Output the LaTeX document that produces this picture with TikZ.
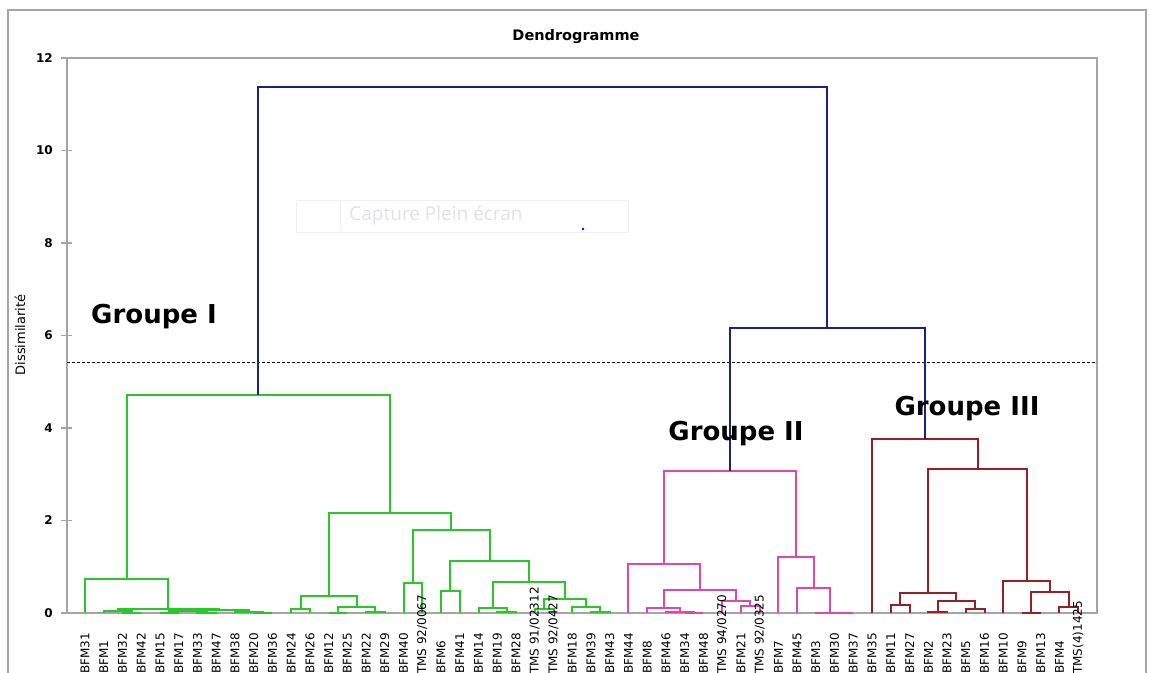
\documentclass[tikz,border=0pt]{standalone}
\usepackage{fontspec}
\setmainfont{DejaVu Sans}
\newfontfamily\wmfont{Open Sans}
\usetikzlibrary{calc}
\definecolor{cgreen}{RGB}{40,200,40}
\definecolor{cpink}{RGB}{222,72,172}
\definecolor{cred}{RGB}{150,32,38}
\definecolor{cnavy}{RGB}{30,30,135}
\definecolor{cframe}{RGB}{165,165,165}
\definecolor{cwm}{RGB}{238,240,246}
\definecolor{cwmtext}{RGB}{226,226,230}
\newcommand\mrg[5]{%
  \path let \p1=(#3), \p2=(#4) in coordinate (#2) at ({(\x1+\x2)/2},#5);
  \draw[#1] (#3) |- (#2) -| (#4);}
\tikzset{
  g1/.style={cgreen,line width=2},
  g2/.style={cpink,line width=2},
  g3/.style={cred,line width=2},
  topl/.style={cnavy,line width=2},
  axisline/.style={cframe,line width=2},
  leaflab/.style={rotate=90,anchor=west,inner sep=0pt,font=\fontsize{12}{14}\selectfont},
  ticklab/.style={anchor=east,inner sep=0pt,font=\bfseries\fontsize{12}{14}\selectfont},
  grp/.style={inner sep=0pt,font=\bfseries\fontsize{26}{30}\selectfont}
}
\begin{document}
\begin{tikzpicture}[x=1pt,y=-1pt]
\useasboundingbox (0,0) rectangle (1151,672);
\fill[white] (0,0) rectangle (1151,672);
% outer frame
\draw[cframe,line width=1.2] (8,10) rectangle (1146,700);
% title
\node[font=\bfseries\fontsize{14.5}{17}\selectfont] (title) at (576,37) {Dendrogramme};
% watermark
\draw[draw=cwm,fill=white] (296,200) rectangle (628,232);
\draw[cwm] (340,201) -- (340,231);
\node[text=cwmtext,font=\wmfont\fontsize{19}{22}\selectfont] (wm) at (436,216) {Capture Plein écran};
\fill[blue] (583,229) circle (1.3);
% plot frame
\draw[axisline] (67,58) rectangle (1097,613);
\foreach \v in {0,2,...,12}{
  \draw[axisline,line width=1.4] (61,{613-46.25*\v}) -- (72,{613-46.25*\v});
  \node[ticklab] (tick\v) at (53,{613-46.25*\v}) {\v};
}
\node[rotate=90,font=\fontsize{13}{15}\selectfont] (ylab) at (20,335) {Dissimilarité};
% threshold
\coordinate (thA) at (67,362);
\coordinate (thB) at (1097,362);
\draw[black,line width=1,dash pattern=on 3pt off 2pt] (thA) -- (thB);
% leaves
\foreach \i in {0,...,53}{
  \coordinate (L\i) at ({85+18.74*\i},613);
}
% Group I
\mrg{g1}{a1}{L2}{L3}{613}
\mrg{g1}{a2}{L1}{a1}{611}
\mrg{g1}{b1}{L4}{L5}{613}
\mrg{g1}{b2}{L6}{L7}{612.5}
\mrg{g1}{b3}{b1}{b2}{611}
\mrg{g1}{c1}{L9}{L10}{613}
\mrg{g1}{c2}{L8}{c1}{612}
\mrg{g1}{r1}{b3}{c2}{610}
\mrg{g1}{nA}{a2}{r1}{608.5}
\mrg{g1}{G1L}{L0}{nA}{579}
\mrg{g1}{d1}{L11}{L12}{609.3}
\mrg{g1}{d2}{L13}{L14}{613}
\mrg{g1}{d3}{L15}{L16}{611.7}
\mrg{g1}{d4}{d2}{d3}{606.7}
\mrg{g1}{d5}{d1}{d4}{596}
\mrg{g1}{e1}{L17}{L18}{583.3}
\mrg{g1}{e2}{L19}{L20}{591}
\mrg{g1}{e3}{L22}{L23}{611.7}
\mrg{g1}{e4}{L21}{e3}{608.3}
\mrg{g1}{e5}{L24}{L25}{609}
\mrg{g1}{e6}{L27}{L28}{611.7}
\mrg{g1}{e7}{L26}{e6}{606.7}
\mrg{g1}{e8}{e5}{e7}{599}
\mrg{g1}{e9}{e4}{e8}{581.7}
\mrg{g1}{e10}{e2}{e9}{561}
\mrg{g1}{e11}{e1}{e10}{530}
\mrg{g1}{G1R}{d5}{e11}{513.3}
\mrg{g1}{G1}{G1L}{G1R}{395}
% Group II
\mrg{g2}{f1}{L32}{L33}{613}
\mrg{g2}{f2}{L31}{f1}{611.7}
\mrg{g2}{f3}{L30}{f2}{608.3}
\mrg{g2}{f4}{L35}{L36}{606}
\mrg{g2}{f5}{L34}{f4}{600.7}
\mrg{g2}{f6}{f3}{f5}{590}
\mrg{g2}{f7}{L29}{f6}{564}
\mrg{g2}{h1}{L40}{L41}{613}
\mrg{g2}{h2}{L39}{h1}{612.5}
\mrg{g2}{h3}{L38}{h2}{588.3}
\mrg{g2}{h4}{L37}{h3}{556.7}
\mrg{g2}{G2}{f7}{h4}{471}
% Group III
\mrg{g3}{j1}{L45}{L46}{611.7}
\mrg{g3}{j2}{L47}{L48}{609}
\mrg{g3}{j3}{j1}{j2}{600.7}
\mrg{g3}{k1}{L43}{L44}{605}
\mrg{g3}{k2}{k1}{j3}{593.3}
\mrg{g3}{m1}{L50}{L51}{613}
\mrg{g3}{m2}{L52}{L53}{606.7}
\mrg{g3}{m3}{m1}{m2}{591.7}
\mrg{g3}{m4}{L49}{m3}{581}
\mrg{g3}{n1}{k2}{m4}{469.3}
\mrg{g3}{G3}{L42}{n1}{439}
% top
\mrg{topl}{T2}{G2}{G3}{328}
\mrg{topl}{RT}{G1}{T2}{87}
% leaf labels
\foreach \n [count=\i from 0] in {BFM31,BFM1,BFM32,BFM42,BFM15,BFM17,BFM33,BFM47,BFM38,BFM20,BFM36,BFM24,BFM26,BFM12,BFM25,BFM22,BFM29,BFM40,{TMS 92/0067},BFM6,BFM41,BFM14,BFM19,BFM28,{TMS 91/02312},{TMS 92/0427},BFM18,BFM39,BFM43,BFM44,BFM8,BFM46,BFM34,BFM48,{TMS 94/0270},BFM21,{TMS 92/0325},BFM7,BFM45,BFM3,BFM30,BFM37,BFM35,BFM11,BFM27,BFM2,BFM23,BFM5,BFM16,BFM10,BFM9,BFM13,BFM4,{TMS(4)1425}}{
  \node[leaflab] (lab\i) at ({85+18.74*\i},674) {\n};
}
% group labels
\node[grp] (gI) at (154,317) {Groupe I};
\node[grp] (gII) at (736,434) {Groupe II};
\node[grp] (gIII) at (967,409) {Groupe III};
\end{tikzpicture}
\end{document}
